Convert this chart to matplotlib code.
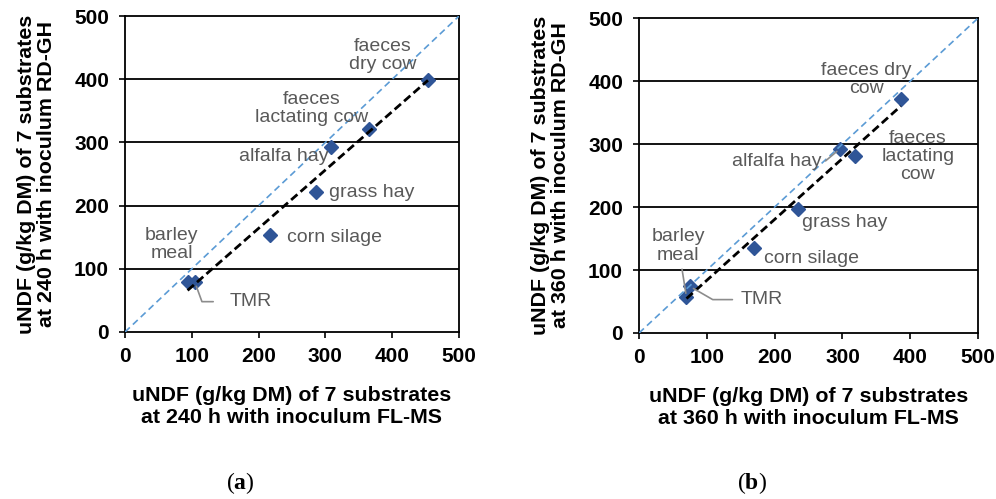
import numpy as np
import matplotlib
matplotlib.use("Agg")
import matplotlib.pyplot as plt

plt.rcParams['font.family'] = ['Liberation Sans', 'DejaVu Sans']
plt.rcParams['mathtext.fontset'] = 'custom'
plt.rcParams['mathtext.bf'] = 'Liberation Serif:bold'
plt.rcParams['mathtext.rm'] = 'Liberation Serif'

### Données
substrats = ["barley meal", "TMR", "corn silage", "grass hay",
             "alfalfa hay", "faeces lactating cow", "faeces dry cow"]

# (a) 240 h
x_240 = [93.7, 104.7, 216.8, 286.6, 308.0, 365.0, 453.6]
y_240 = [78.5, 78.5, 153.3, 221.3, 292.4, 321.4, 398.8]

# (b) 360 h
x_360 = [70.0, 74.9, 169.5, 234.0, 296.5, 318.7, 386.0]
y_360 = [56.6, 74.0, 135.0, 197.4, 292.6, 280.4, 371.4]

ticks = [0, 100, 200, 300, 400, 500]

# textes des étiquettes (retours à la ligne différents selon le panneau)
txt_a = {"barley meal": "barley\nmeal", "TMR": "TMR",
         "corn silage": "corn silage", "grass hay": "grass hay",
         "alfalfa hay": "alfalfa hay",
         "faeces lactating cow": "faeces\nlactating cow",
         "faeces dry cow": "faeces\ndry cow"}
txt_b = dict(txt_a)
txt_b["faeces lactating cow"] = "faeces\nlactating\ncow"
txt_b["faeces dry cow"] = "faeces dry\ncow"

col_pts = '#2F5597'
col_txt = '#595959'
col_bleu = '#5B9BD5'

fig = plt.figure(figsize=(9.96, 4.99), dpi=100)


def panneau(ax, x, y, heure, textes, positions, fleches):
    ax.set_xlim(0, 500)
    ax.set_ylim(0, 500)
    ax.set_xticks(ticks)
    ax.set_yticks(ticks)
    ax.tick_params(direction='out', length=4.5, width=1.2, labelsize=15)
    ax.tick_params(axis='x', pad=6)
    ax.tick_params(axis='y', pad=7)
    for lab in ax.get_xticklabels() + ax.get_yticklabels():
        lab.set_fontweight('bold')
    for s in ax.spines.values():
        s.set_linewidth(1.3)
        s.set_color('black')
    for t in ticks[1:-1]:
        ax.axhline(t, color='black', lw=1.3, zorder=1)

    # ligne 1:1
    ax.plot([0, 500], [0, 500], color=col_bleu, lw=1.2, dashes=(4, 2.5), zorder=3)

    # points
    ax.plot(x, y, 'D', color=col_pts, ms=7, zorder=2)

    # droite de régression
    a, b = np.polyfit(x, y, 1)
    xr = np.array([min(x), max(x)])
    ax.plot(xr, a * xr + b, color='black', lw=2, dashes=(3, 1.5), zorder=4)

    # étiquettes
    for nom, (tx, ty, ha) in positions.items():
        i = substrats.index(nom)
        if nom in fleches:
            conn, shr = fleches[nom]
            ax.annotate(textes[nom], xy=(x[i], y[i]), xytext=(tx, ty),
                        ha=ha, va='center', fontsize=14, color=col_txt,
                        linespacing=1.1, zorder=5,
                        arrowprops=dict(arrowstyle='-', color='#8C8C8C', lw=1.2,
                                        connectionstyle=conn, shrinkA=shr, shrinkB=3))
        else:
            ax.text(tx, ty, textes[nom], ha=ha, va='center', fontsize=14,
                    color=col_txt, linespacing=1.1, zorder=5)

    ax.set_xlabel(f"uNDF (g/kg DM) of 7 substrates\nat {heure} h with inoculum FL-MS",
                  fontsize=15.4, fontweight='bold', linespacing=1.15, labelpad=15)
    ax.set_ylabel(f"uNDF (g/kg DM) of 7 substrates\nat {heure} h with inoculum RD-GH",
                  fontsize=15.4, fontweight='bold', linespacing=1.05, labelpad=13)


ax1 = fig.add_axes([0.1255, 0.3347, 0.3353, 0.633])
pos_a = {"barley meal": (70, 138, 'center'), "TMR": (157, 48, 'left'),
         "corn silage": (242, 150, 'left'), "grass hay": (305, 221, 'left'),
         "alfalfa hay": (237, 277, 'center'),
         "faeces lactating cow": (279, 354, 'center'),
         "faeces dry cow": (386, 438, 'center')}
fl_a = {"TMR": ("angle,angleA=0,angleB=110,rad=0", 10)}
panneau(ax1, x_240, y_240, 240, txt_a, pos_a, fl_a)

ax2 = fig.add_axes([0.6416, 0.3327, 0.3404, 0.631])
pos_b = {"barley meal": (58, 138, 'center'), "TMR": (150, 53, 'left'),
         "corn silage": (185, 119, 'left'), "grass hay": (240, 176, 'left'),
         "alfalfa hay": (203, 273, 'center'),
         "faeces lactating cow": (411, 280, 'center'),
         "faeces dry cow": (335, 402, 'center')}
fl_b = {"TMR": ("angle,angleA=0,angleB=-30,rad=0", 4),
        "barley meal": ("arc3,rad=0", 2),
        "alfalfa hay": ("angle,angleA=0,angleB=40,rad=0", 1)}
panneau(ax2, x_360, y_360, 360, txt_b, pos_b, fl_b)

# légendes (a) et (b)
for xc, lettre in [(0.241, "a"), (0.755, "b")]:
    fig.text(xc, 0.032, r"$\mathrm{(}\mathbf{" + lettre + r"}\mathrm{)}$", fontsize=17,
             ha='center', va='center')

plt.savefig("out.png", dpi=100)
plt.close()
